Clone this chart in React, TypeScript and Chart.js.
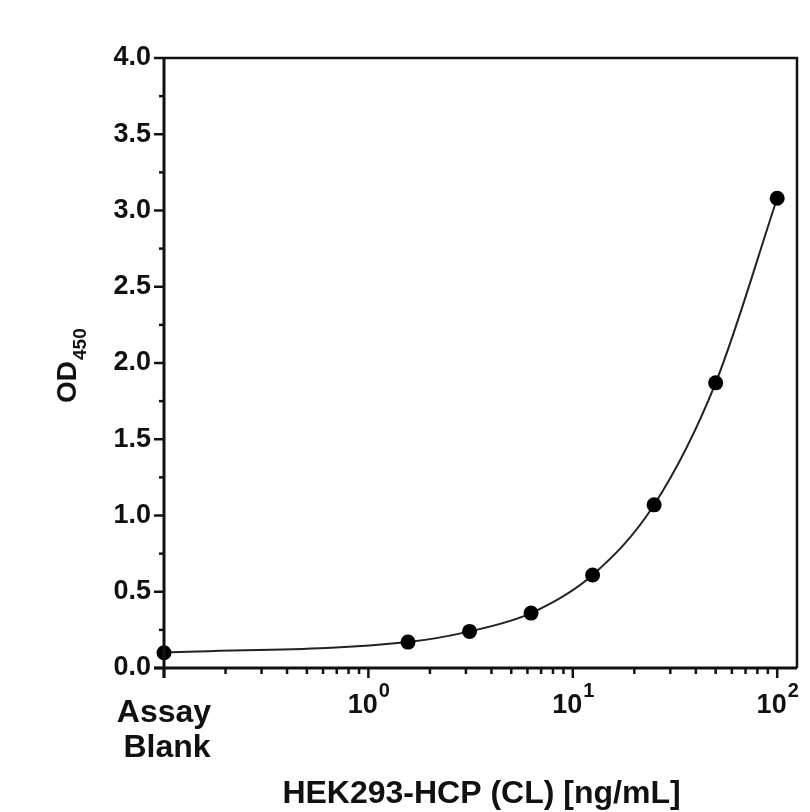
import React, { useEffect, useRef } from "react";
import { Chart, registerables } from "chart.js";

Chart.register(...registerables);

// ---- data ----
const concentrations = [0.1, 1.5625, 3.125, 6.25, 12.5, 25, 50, 100]; // 0.1 = assay blank position
const od450 = [0.10, 0.17, 0.24, 0.36, 0.61, 1.07, 1.87, 3.08];

const xMajorTicks = [0.1, 1, 10, 100];
const xTickBase = ["", "10", "10", "10"];
const xTickExponent = ["", "0", "1", "2"];
const blankLabel = ["Assay", "Blank"];

const yMin = 0;
const yMax = 4;
const yStep = 0.5;

const xTitle = "HEK293-HCP (CL) [ng/mL]";
const yTitleMain = "OD";
const yTitleSub = "450";

const FONT = "'Liberation Sans', Arial, Helvetica, sans-serif";

const axesPlugin = {
  id: "customAxes",
  afterDraw(chart: any) {
    const { ctx, chartArea } = chart;
    const xs = chart.scales.x;
    const ys = chart.scales.y;
    const { left, right, top, bottom } = chartArea;
    ctx.save();
    ctx.strokeStyle = "#111";
    ctx.fillStyle = "#111";
    ctx.lineCap = "butt";

    // frame top & right (thinner)
    ctx.lineWidth = 2.5;
    ctx.beginPath();
    ctx.moveTo(left, top);
    ctx.lineTo(right, top);
    ctx.lineTo(right, bottom);
    ctx.stroke();

    // main axes
    ctx.lineWidth = 3;
    ctx.beginPath();
    ctx.moveTo(left, top);
    ctx.lineTo(left, bottom + 10);
    ctx.moveTo(left - 10, bottom);
    ctx.lineTo(right, bottom);
    ctx.stroke();

    // y ticks
    ctx.lineWidth = 2.5;
    for (let v = yMin; v <= yMax + 1e-9; v += yStep) {
      const py = ys.getPixelForValue(v);
      ctx.beginPath();
      ctx.moveTo(left - 10, py);
      ctx.lineTo(left, py);
      ctx.stroke();
      if (v + yStep / 2 < yMax) {
        const pm = ys.getPixelForValue(v + yStep / 2);
        ctx.beginPath();
        ctx.moveTo(left - 5, pm);
        ctx.lineTo(left, pm);
        ctx.stroke();
      }
    }

    // x ticks (log)
    for (let i = 0; i < xMajorTicks.length; i++) {
      const v = xMajorTicks[i];
      const px = xs.getPixelForValue(v);
      ctx.beginPath();
      ctx.moveTo(px, bottom);
      ctx.lineTo(px, bottom + 10);
      ctx.stroke();
      for (let m = 2; m <= 9; m++) {
        const mv = v * m;
        if (mv > xs.max) break;
        const pm = xs.getPixelForValue(mv);
        ctx.beginPath();
        ctx.moveTo(pm, bottom);
        ctx.lineTo(pm, bottom + 6);
        ctx.stroke();
      }
    }

    // x tick labels
    ctx.textBaseline = "alphabetic";
    for (let i = 0; i < xMajorTicks.length; i++) {
      const px = xs.getPixelForValue(xMajorTicks[i]);
      if (xTickBase[i] === "") {
        ctx.font = `bold 32px ${FONT}`;
        ctx.textAlign = "center";
        ctx.fillText(blankLabel[0], px, 722);
        ctx.fillText(blankLabel[1], px + 3, 757);
      } else {
        ctx.textAlign = "left";
        ctx.font = `bold 27px ${FONT}`;
        const w1 = ctx.measureText(xTickBase[i]).width;
        ctx.font = `bold 20px ${FONT}`;
        const w2 = ctx.measureText(xTickExponent[i]).width;
        const start = px - (w1 + w2) / 2;
        ctx.font = `bold 27px ${FONT}`;
        ctx.fillText(xTickBase[i], start, 713);
        ctx.font = `bold 20px ${FONT}`;
        ctx.fillText(xTickExponent[i], start + w1 + 1, 697);
      }
    }

    // x title
    ctx.font = `bold 32px ${FONT}`;
    ctx.textAlign = "center";
    ctx.fillText(xTitle, (left + right) / 2 + 1, 803);

    // y title (rotated)
    ctx.save();
    ctx.translate(76, 403);
    ctx.rotate(-Math.PI / 2);
    ctx.textAlign = "left";
    ctx.font = `bold 28px ${FONT}`;
    ctx.fillText(yTitleMain, 0, 0);
    const wOD = ctx.measureText(yTitleMain).width;
    ctx.font = `bold 19px ${FONT}`;
    ctx.fillText(yTitleSub, wOD + 1, 10);
    ctx.restore();

    ctx.restore();
  },
};

export default function App() {
  const canvasRef = useRef<HTMLCanvasElement | null>(null);

  useEffect(() => {
    const canvas = canvasRef.current;
    if (!canvas) return;
    const chart = new Chart(canvas, {
      type: "line",
      data: {
        datasets: [
          {
            data: concentrations.map((c, i) => ({ x: c, y: od450[i] })),
            borderColor: "#222",
            borderWidth: 2,
            backgroundColor: "#000",
            pointBackgroundColor: "#000",
            pointBorderColor: "#000",
            pointRadius: 7.5,
            pointBorderWidth: 0,
            cubicInterpolationMode: "monotone",
            fill: false,
            clip: false,
          } as any,
        ],
      },
      options: {
        responsive: false,
        animation: false,
        devicePixelRatio: 1,
        layout: { padding: { top: 58, right: 13, left: 0, bottom: 0 } },
        plugins: {
          legend: { display: false },
          tooltip: { enabled: false },
        },
        scales: {
          x: {
            type: "logarithmic",
            min: 0.1,
            max: 125,
            position: "bottom",
            grid: { display: false, drawTicks: false },
            border: { display: false },
            ticks: { display: false },
            afterFit: (s: any) => {
              s.height = 144;
            },
          },
          y: {
            type: "linear",
            min: yMin,
            max: yMax,
            position: "left",
            grid: { display: false, drawTicks: false },
            border: { display: false },
            ticks: {
              stepSize: yStep,
              color: "#111",
              padding: 13,
              font: { family: FONT, weight: "bold", size: 27 },
              callback: (v: any) => Number(v).toFixed(1),
            },
            afterFit: (s: any) => {
              s.width = 164;
            },
          },
        },
      } as any,
      plugins: [axesPlugin],
    });
    return () => chart.destroy();
  }, []);

  return (
    <div style={{ position: "absolute", left: 0, top: 0, width: 810, height: 812, background: "#fff" }}>
      <canvas ref={canvasRef} width={810} height={812} style={{ display: "block" }} />
    </div>
  );
}
